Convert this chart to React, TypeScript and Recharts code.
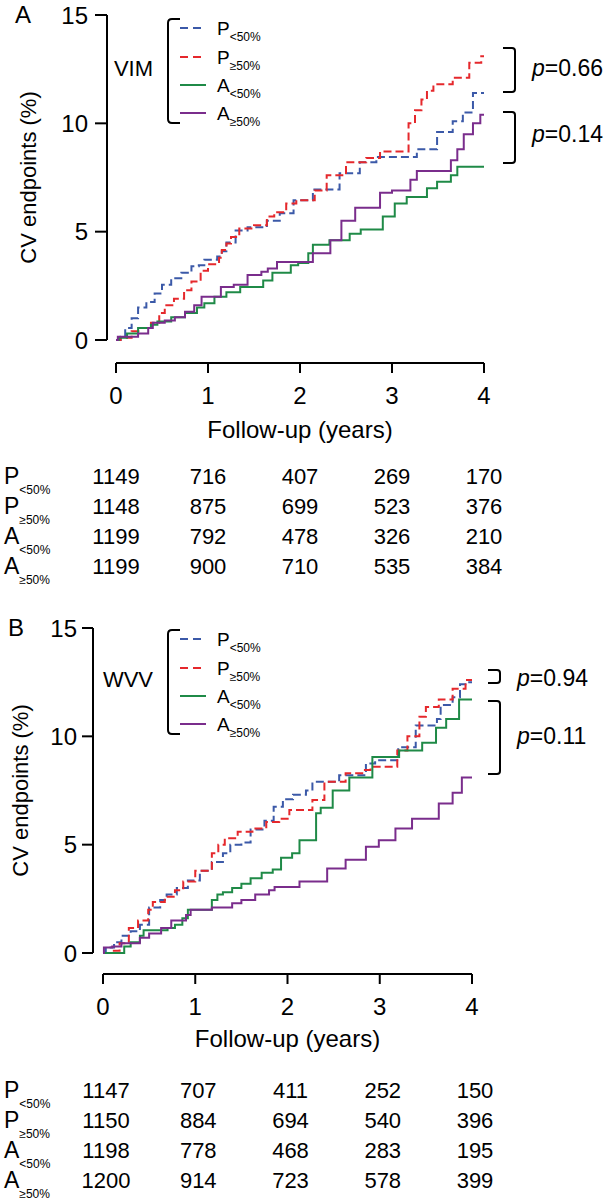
// Courbes d'incidence cumulée (VIM / WVV) avec table des effectifs à risque.
import { LineChart, Line, XAxis, YAxis, Legend } from 'recharts'

const FONT = '"Liberation Sans", Arial, Helvetica, sans-serif'
const YEARS = [0, 1, 2, 3, 4]
const Y_TICKS = [0, 5, 10, 15]
const GROUPS = ['P', 'P', 'A', 'A']
const SUBS = ['<50%', '≥50%', '<50%', '≥50%']
const COLORS = ['#3b59a8', '#e5282c', '#1f8a47', '#7a2d8c']
const DASHED = [true, true, false, false]

// Panel A : VIM  [années, %]
const vimPlo = [[0,0],[0.05,0.15],[0.1,0.55],[0.17,1.0],[0.24,1.5],[0.33,1.75],[0.42,2.15],[0.5,2.55],[0.6,2.85],[0.71,3.1],[0.82,3.4],[0.9,3.45],[0.96,3.7],[1.1,3.85],[1.15,4.1],[1.2,4.5],[1.3,5.05],[1.43,5.2],[1.64,5.5],[1.78,5.85],[1.93,6.45],[2.14,6.95],[2.43,7.7],[2.65,8.2],[2.83,8.45],[3.27,8.8],[3.49,9.6],[3.66,10.1],[3.77,10.5],[3.88,11.4],[4.0,11.4]]
const vimPhi = [[0,0],[0.05,0.1],[0.17,0.4],[0.27,0.55],[0.38,0.8],[0.47,1.25],[0.53,1.6],[0.63,1.9],[0.74,2.3],[0.82,2.7],[0.92,3.2],[1.0,3.5],[1.12,3.8],[1.15,4.15],[1.2,4.45],[1.25,4.75],[1.34,5.15],[1.5,5.3],[1.64,5.7],[1.72,5.9],[1.85,6.3],[1.96,6.45],[2.16,6.9],[2.29,7.6],[2.5,8.2],[2.72,8.4],[2.87,8.7],[3.18,10.0],[3.25,10.6],[3.32,11.1],[3.38,11.5],[3.45,11.8],[3.66,12.1],[3.84,12.8],[3.97,13.1],[4.0,13.1]]
const vimAlo = [[0,0],[0.03,0.1],[0.12,0.3],[0.24,0.55],[0.38,0.7],[0.45,0.85],[0.6,1.05],[0.75,1.25],[0.88,1.5],[0.96,1.7],[1.07,2.0],[1.2,2.2],[1.35,2.45],[1.6,2.75],[1.7,3.1],[1.9,3.45],[1.98,3.55],[2.09,4.0],[2.14,4.4],[2.32,4.6],[2.54,4.9],[2.66,5.1],[2.9,5.7],[3.03,6.3],[3.16,6.6],[3.38,7.0],[3.49,7.3],[3.64,7.6],[3.71,8.0],[4.0,8.0]]
const vimAhi = [[0,0],[0.02,0.15],[0.24,0.3],[0.35,0.55],[0.4,0.8],[0.53,0.9],[0.64,1.05],[0.75,1.3],[0.85,1.6],[0.93,2.0],[1.14,2.45],[1.28,2.55],[1.43,3.0],[1.58,3.15],[1.65,3.3],[1.75,3.6],[2.14,4.0],[2.33,4.6],[2.45,5.5],[2.6,6.1],[2.87,6.8],[3.0,6.9],[3.2,7.4],[3.27,7.8],[3.64,8.3],[3.71,8.8],[3.78,9.5],[3.88,10.0],[3.96,10.4],[4.0,10.4]]

// Panel B : WVV
const wvvPlo = [[0,0],[0.03,0.25],[0.12,0.5],[0.2,0.8],[0.3,1.0],[0.4,1.3],[0.5,2.1],[0.62,2.45],[0.69,2.7],[0.8,3.0],[0.92,3.35],[1.05,3.8],[1.18,4.2],[1.3,4.6],[1.38,5.0],[1.5,5.1],[1.6,5.7],[1.75,6.1],[1.85,6.75],[1.95,7.1],[2.06,7.3],[2.2,7.5],[2.27,7.9],[2.56,8.2],[2.85,8.75],[2.95,8.9],[3.2,9.5],[3.39,10.5],[3.62,10.8],[3.66,11.45],[3.79,11.8],[3.87,12.4],[3.97,12.5],[4.0,12.5]]
const wvvPhi = [[0,0],[0.08,0.1],[0.18,0.45],[0.28,1.15],[0.38,1.5],[0.49,2.0],[0.54,2.35],[0.67,2.6],[0.78,2.9],[0.87,3.3],[1.0,3.8],[1.18,4.6],[1.25,5.0],[1.32,5.3],[1.46,5.6],[1.62,5.75],[1.77,6.05],[1.91,6.2],[2.02,6.6],[2.27,7.06],[2.4,7.9],[2.63,8.3],[2.81,8.45],[2.9,8.6],[3.19,9.35],[3.3,10.0],[3.43,10.9],[3.5,11.35],[3.64,11.7],[3.79,12.2],[3.93,12.6],[4.0,12.6]]
const wvvAlo = [[0,0],[0.23,0.3],[0.3,0.5],[0.4,0.8],[0.44,1.05],[0.7,1.15],[0.78,1.3],[0.86,1.6],[0.92,2.0],[1.18,2.45],[1.24,2.7],[1.3,2.8],[1.4,3.0],[1.5,3.2],[1.6,3.45],[1.72,3.7],[1.84,3.85],[1.93,4.4],[2.05,4.6],[2.13,5.2],[2.31,6.45],[2.36,6.7],[2.49,7.5],[2.67,8.1],[2.92,9.05],[3.21,9.35],[3.46,9.7],[3.61,10.4],[3.72,10.8],[3.86,11.7],[4.0,11.7]]
const wvvAhi = [[0,0],[0.01,0.25],[0.1,0.3],[0.2,0.45],[0.4,0.7],[0.5,0.9],[0.63,1.15],[0.74,1.5],[0.9,1.75],[0.95,2.0],[1.18,2.1],[1.4,2.3],[1.5,2.45],[1.65,2.7],[1.8,2.9],[1.86,3.05],[2.13,3.3],[2.43,3.9],[2.63,4.3],[2.85,4.9],[2.99,5.2],[3.17,5.75],[3.35,6.2],[3.64,6.9],[3.79,7.4],[3.89,8.1],[4.0,8.1]]

// effectifs à risque (0..4 ans)
const vimAtRisk = [
  [1149, 716, 407, 269, 170],
  [1148, 875, 699, 523, 376],
  [1199, 792, 478, 326, 210],
  [1199, 900, 710, 535, 384],
]
const wvvAtRisk = [
  [1147, 707, 411, 252, 150],
  [1150, 884, 694, 540, 396],
  [1198, 778, 468, 283, 195],
  [1200, 914, 723, 578, 399],
]

const toPts = (arr: number[][]) => arr.map(([t, v]) => ({ t, v }))

type Bracket = { y1: number; y2: number; ty: number; label: string }
type PanelCfg = {
  letter: string; group: string; top: number; height: number
  series: number[][][]; atRisk: number[][]
  yAxisX: number; x0: number; x4: number; plotTop: number; yZero: number; xAxisY: number
  mainH: number; titleOffset: number; yTickSize: number; yTickMargin: number
  letterX: number; yTitleX: number; colShift: number
  brX: number; pX: number; brackets: Bracket[]
}

const PANELS: PanelCfg[] = [
  {
    letter: 'A', group: 'VIM', top: 0, height: 600,
    series: [vimPlo, vimPhi, vimAlo, vimAhi], atRisk: vimAtRisk,
    yAxisX: 107, x0: 116, x4: 484, plotTop: 15, yZero: 340, xAxisY: 363,
    mainH: 95, titleOffset: 20, yTickSize: 12, yTickMargin: 7,
    letterX: 15, yTitleX: 36, colShift: 0,
    brX: 515, pX: 532,
    brackets: [
      { y1: 48, y2: 92, ty: 67, label: '=0.66' },
      { y1: 112, y2: 163, ty: 133, label: '=0.14' },
    ],
  },
  {
    letter: 'B', group: 'WVV', top: 611, height: 589,
    series: [wvvPlo, wvvPhi, wvvAlo, wvvAhi], atRisk: wvvAtRisk,
    yAxisX: 93, x0: 103, x4: 472, plotTop: 17, yZero: 342, xAxisY: 363,
    mainH: 98, titleOffset: 25, yTickSize: 11, yTickMargin: 5,
    letterX: 8, yTitleX: 28, colShift: 3,
    brX: 500, pX: 517,
    brackets: [
      { y1: 59, y2: 72, ty: 66, label: '=0.94' },
      { y1: 90, y2: 163, ty: 124, label: '=0.11' },
    ],
  },
]

const ROW_H = 30
const LEGEND_ROWS = [28, 57, 85, 113]

function LegendBox({ group }: { group: string }) {
  return (
    <svg width={180} height={130} style={{ display: 'block', overflow: 'visible' }}>
      <text x={53} y={76} textAnchor="end" fontSize={22} fontFamily={FONT} fill="#000">{group}</text>
      <path d="M80 19 H72 Q68 19 68 23 V119 Q68 123 72 123 H80" fill="none" stroke="#000" strokeWidth={2} />
      {LEGEND_ROWS.map((y, i) => (
        <g key={i}>
          <line x1={80} x2={106} y1={y} y2={y} stroke={COLORS[i]} strokeWidth={2}
            strokeDasharray={DASHED[i] ? '8 5' : undefined} />
          <text x={117} y={y + 7} fontSize={19} fontFamily={FONT} fill="#000">
            {GROUPS[i]}<tspan fontSize={12} dy={6}>{SUBS[i]}</tspan>
          </text>
        </g>
      ))}
    </svg>
  )
}

function Panel({ cfg }: { cfg: PanelCfg }) {
  const W = 606
  const H = cfg.height
  const bottom = H - cfg.xAxisY - cfg.mainH - ROW_H * 4
  const axisStroke = { stroke: '#000', strokeWidth: 2 }
  const tickFont = { fontSize: 24, fill: '#000', fontFamily: FONT }

  const countTick = (row: number) => (p: any) => {
    const col = YEARS.indexOf(p.payload.value)
    const base = p.y + 26
    return (
      <g>
        {col === 0 && (
          <text x={4} y={base} fontSize={23} fontFamily={FONT} fill="#000">
            {GROUPS[row]}<tspan fontSize={12} dy={10}>{SUBS[row]}</tspan>
          </text>
        )}
        <text x={p.x + cfg.colShift} y={base} textAnchor="middle" fontSize={22} fontFamily={FONT} fill="#000">
          {cfg.atRisk[row][col]}
        </text>
      </g>
    )
  }

  return (
    <div style={{ position: 'absolute', left: 0, top: cfg.top, width: W, height: H }}>
      {/* courbes + axe des x + table */}
      <div style={{ position: 'absolute', left: 0, top: 0 }}>
        <LineChart width={W} height={H}
          margin={{ top: cfg.plotTop, left: cfg.x0, right: W - cfg.x4, bottom }}>
          <YAxis yAxisId="y" type="number" domain={[0, 15]} hide
            padding={{ top: 0, bottom: cfg.xAxisY - cfg.yZero }} />
          <XAxis xAxisId="main" dataKey="t" type="number" domain={[0, 4]} ticks={YEARS} interval={0}
            axisLine={axisStroke} tickLine={axisStroke} tickSize={10} tickMargin={14}
            tick={tickFont} height={cfg.mainH}
            label={{ value: 'Follow-up (years)', position: 'insideBottom', offset: cfg.titleOffset,
              fontSize: 24, fill: '#000', fontFamily: FONT }} />
          {cfg.atRisk.map((_, r) => (
            <XAxis key={r} xAxisId={`n${r}`} dataKey="t" type="number" domain={[0, 4]} ticks={YEARS} interval={0}
              axisLine={false} tickLine={false} tickSize={0} tickMargin={0} height={ROW_H}
              tick={countTick(r)} />
          ))}
          {/* séries invisibles : donnent une échelle aux axes de la table */}
          {cfg.atRisk.map((_, r) => (
            <Line key={`h${r}`} xAxisId={`n${r}`} yAxisId="y" data={toPts(cfg.series[r])} dataKey="v"
              stroke="none" dot={false} activeDot={false} legendType="none" isAnimationActive={false} />
          ))}
          {cfg.series.map((s, i) => (
            <Line key={i} xAxisId="main" yAxisId="y" data={toPts(s)} dataKey="v" type="stepAfter"
              stroke={COLORS[i]} strokeWidth={2} dot={false} activeDot={false}
              strokeDasharray={DASHED[i] ? '8 4' : undefined} isAnimationActive={false} />
          ))}
          <Legend layout="vertical" align="center" verticalAlign="middle"
            wrapperStyle={{ left: 100, top: 0, width: 180, height: 130 }}
            content={() => <LegendBox group={cfg.group} />} />
        </LineChart>
      </div>

      {/* axe des y décalé */}
      <div style={{ position: 'absolute', left: 0, top: 0, pointerEvents: 'none' }}>
        <LineChart width={W} height={H}
          margin={{ top: cfg.plotTop, left: 0, right: W - cfg.x4, bottom: H - cfg.yZero }}>
          <XAxis dataKey="t" type="number" domain={[0, 4]} hide />
          <YAxis type="number" domain={[0, 15]} ticks={Y_TICKS} interval={0} width={cfg.yAxisX}
            axisLine={axisStroke} tickLine={axisStroke} tickSize={cfg.yTickSize} tickMargin={cfg.yTickMargin}
            tick={tickFont} />
          <Line data={toPts(cfg.series[0])} dataKey="v" stroke="none" dot={false} activeDot={false}
            isAnimationActive={false} />
        </LineChart>
      </div>

      {/* annotations */}
      <svg width={W} height={H} style={{ position: 'absolute', left: 0, top: 0, pointerEvents: 'none' }}>
        <text x={cfg.letterX} y={cfg.plotTop + 8} fontSize={24} fontFamily={FONT} fill="#000">{cfg.letter}</text>
        <text transform={`translate(${cfg.yTitleX}, ${(cfg.plotTop + cfg.yZero) / 2}) rotate(-90)`}
          textAnchor="middle" fontSize={22} fontFamily={FONT} fill="#000">CV endpoints (%)</text>
        {cfg.brackets.map((b, i) => (
          <g key={i}>
            <path d={`M${cfg.brX - 12} ${b.y1} H${cfg.brX - 3} Q${cfg.brX} ${b.y1} ${cfg.brX} ${b.y1 + 3} V${b.y2 - 3} Q${cfg.brX} ${b.y2} ${cfg.brX - 3} ${b.y2} H${cfg.brX - 12}`}
              fill="none" stroke="#000" strokeWidth={2} />
            <text x={cfg.pX} y={b.ty + 8.5} fontSize={23} fontFamily={FONT} fill="#000">
              <tspan fontStyle="italic">p</tspan>{b.label}
            </text>
          </g>
        ))}
      </svg>
    </div>
  )
}

export default function App() {
  return (
    <div style={{ position: 'absolute', left: 0, top: 0, width: 606, height: 1200, background: '#fff', fontFamily: FONT }}>
      {PANELS.map((p) => <Panel key={p.letter} cfg={p} />)}
    </div>
  )
}
